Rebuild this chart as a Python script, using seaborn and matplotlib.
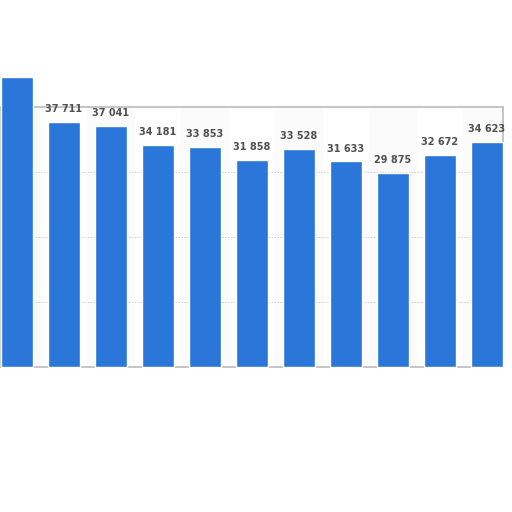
import pandas as pd
import matplotlib.pyplot as plt
import seaborn as sns

years = ['2008', '2009', '2010', '2011', '2012', '2013', '2014', '2015', '2016', '2017', '2018']
values = [44600, 37711, 37041, 34181, 33853, 31858, 33528, 31633, 29875, 32672, 34623]
labels = ['', '37 711', '37 041', '34 181', '33 853', '31 858', '33 528', '31 633', '29 875', '32 672', '34 623']

df = pd.DataFrame({'year': years, 'value': values})

sns.set_style('white')
fig = plt.figure(figsize=(5.12, 5.12), dpi=100)
ax = fig.add_axes([0.0, 0.2832, 0.982, 0.508])

sns.barplot(data=df, x='year', y='value', color='#2b76d9', saturation=1,
            width=0.68, ax=ax, zorder=3)

# first bar runs over the top of the frame
for p in ax.patches:
    p.set_clip_on(False)

# faint alternating column bands
for i in range(len(years)):
    if i % 2 == 0:
        ax.axvspan(i - 0.5, i + 0.5, color='#fbfbfb', zorder=0)

for i, (v, lab) in enumerate(zip(values, labels)):
    if lab:
        ax.text(i, v + 1200, lab, ha='center', va='bottom', fontsize=7,
                fontweight='bold', color='#505050', zorder=4)

ax.set_ylim(0, 40000)
ax.set_xlim(-0.36, 10.34)
ax.set_yticks([10000, 20000, 30000])
ax.yaxis.grid(True, linestyle=(0, (1.5, 1.5)), color='#cfcfcf', linewidth=0.7, zorder=1)
ax.set_axisbelow(True)
ax.tick_params(left=False, bottom=False, labelleft=False, labelbottom=False)
ax.set_xlabel('')
ax.set_ylabel('')
for s in ax.spines.values():
    s.set_color('#bbbbbb')
    s.set_linewidth(1.2)

fig.savefig('out.png', dpi=100)
